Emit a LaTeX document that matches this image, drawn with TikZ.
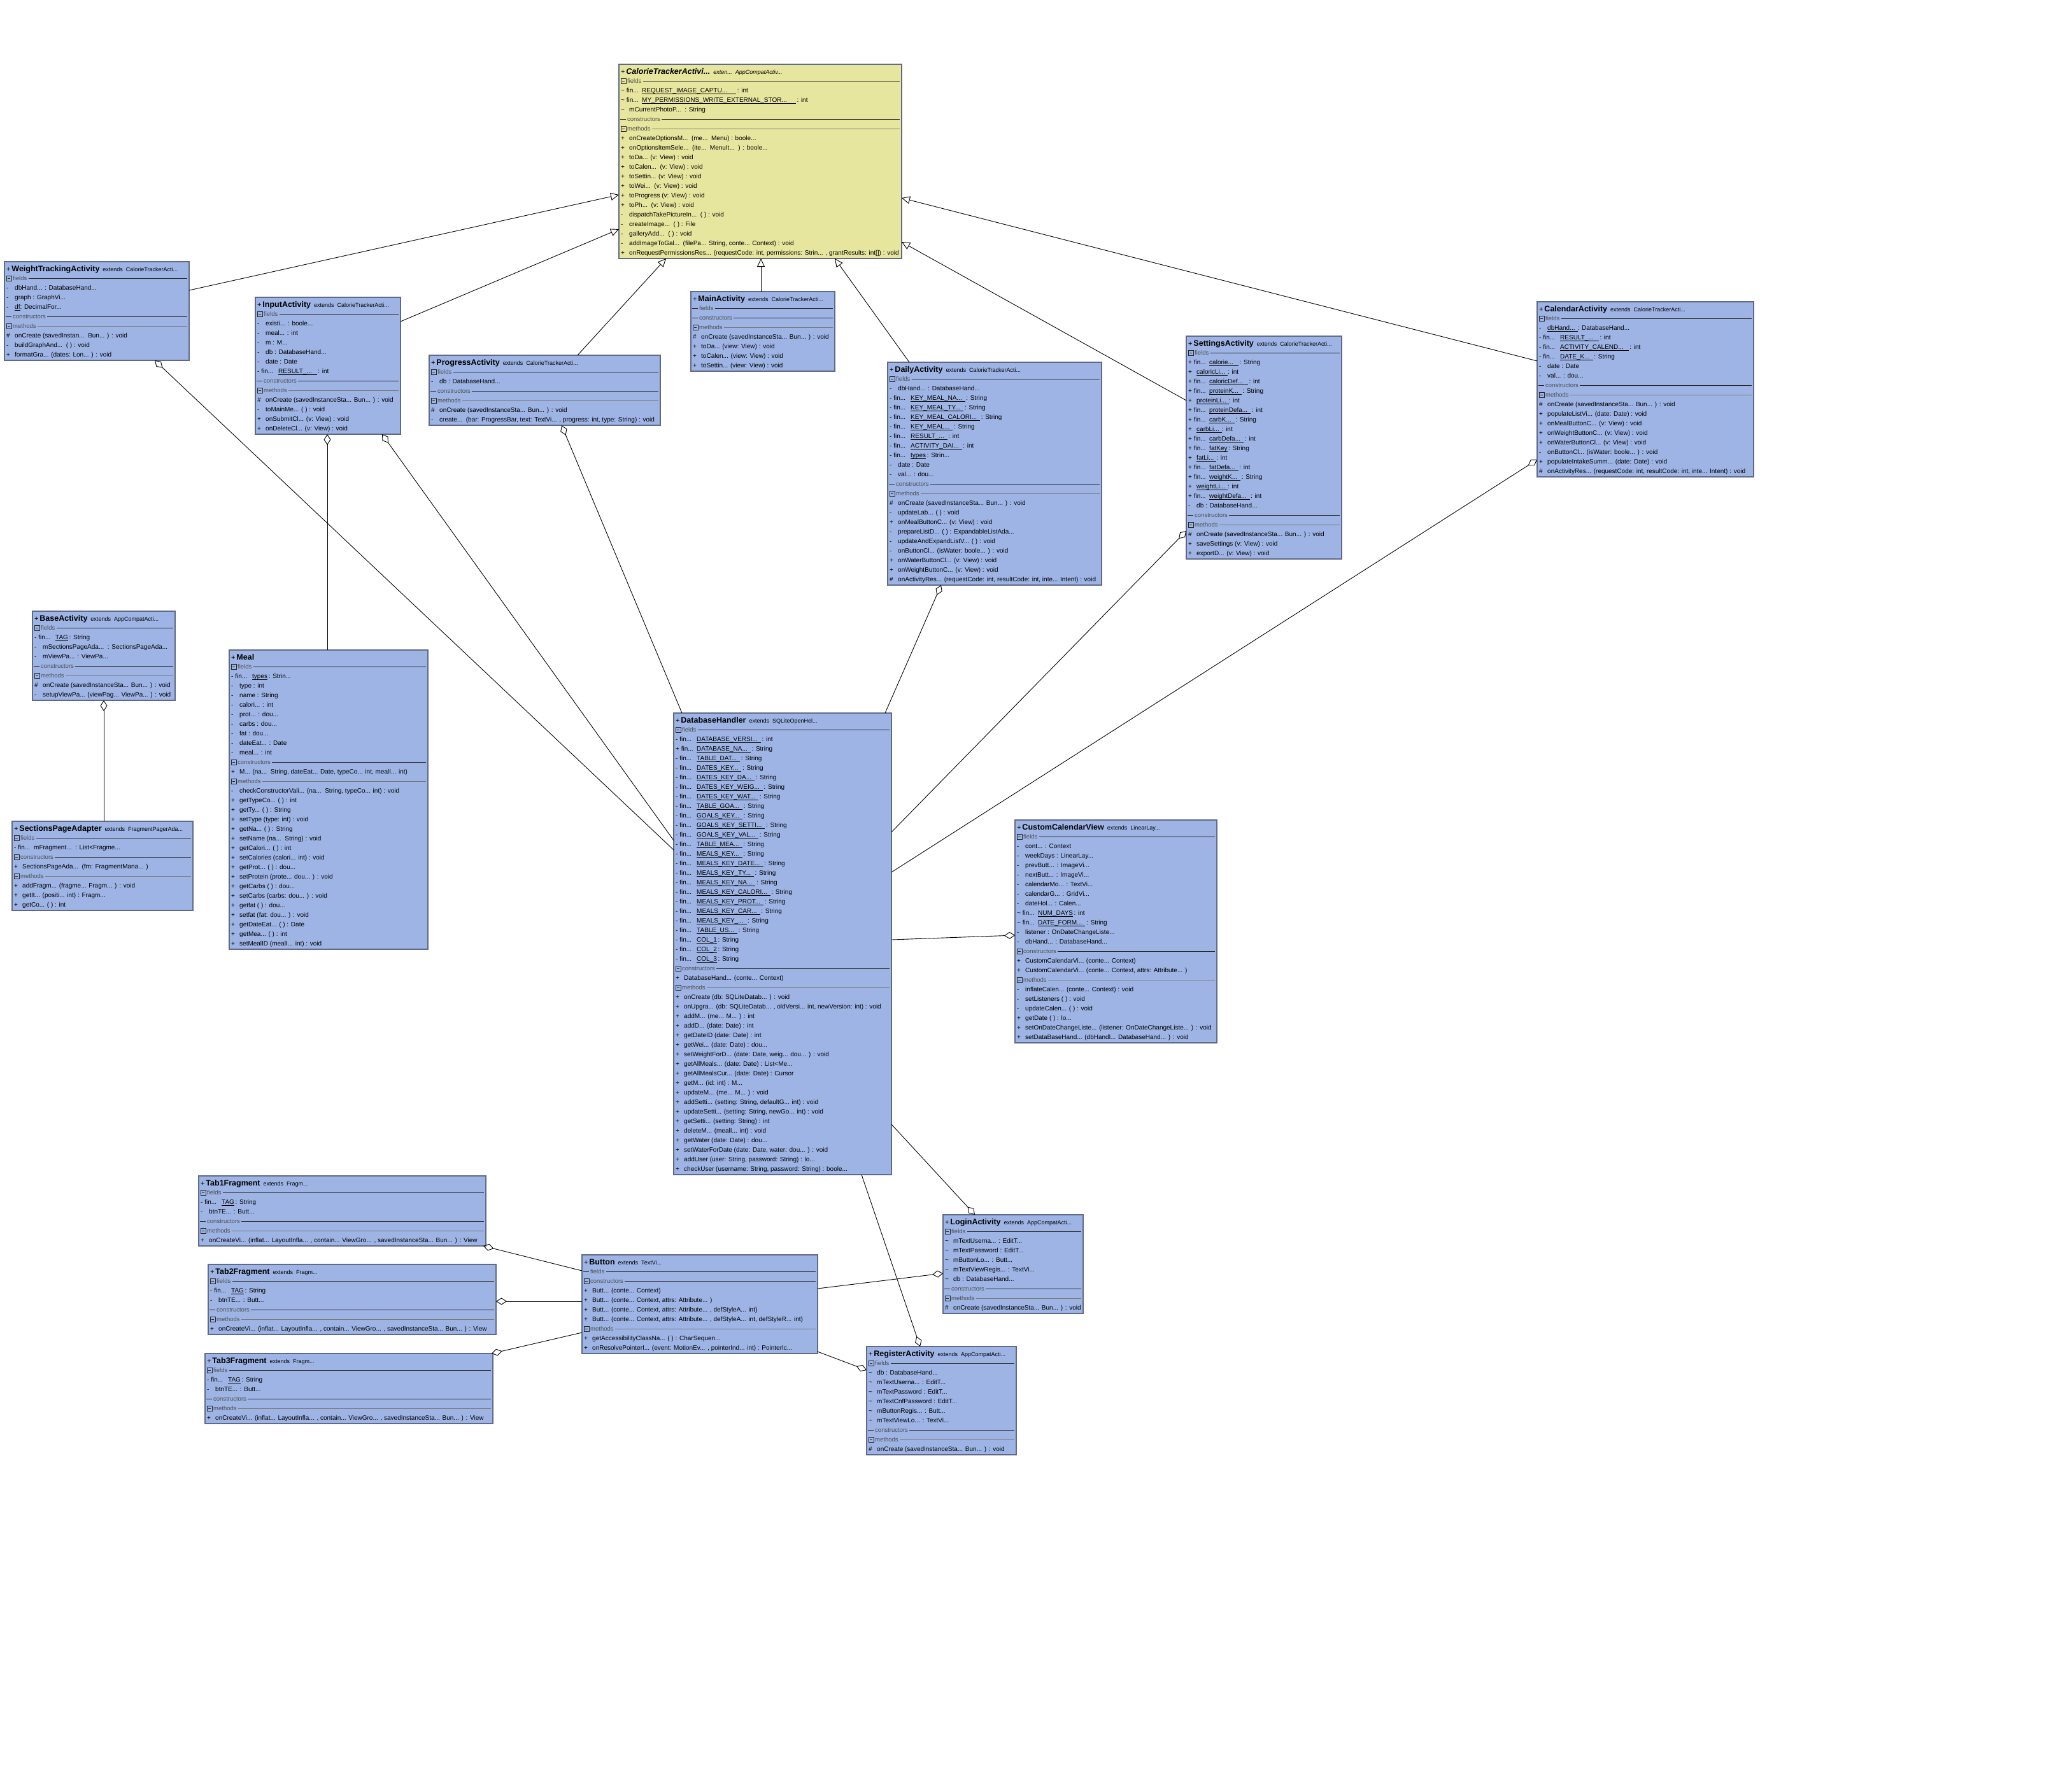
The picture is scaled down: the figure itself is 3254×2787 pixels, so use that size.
\documentclass[tikz,border=0pt]{standalone}
\usepackage{fontspec}
\setmainfont{Liberation Sans}
\usetikzlibrary{calc,arrows.meta}

\definecolor{boxblue}{RGB}{157,180,229}
\definecolor{boxyellow}{RGB}{231,230,158}
\definecolor{boxedge}{RGB}{96,106,136}
\definecolor{sepdark}{RGB}{40,40,40}
\definecolor{seplight}{RGB}{120,120,120}
\definecolor{labelgray}{RGB}{80,80,80}

\newcounter{rowno}

% underline with a 1px rule
\newcommand\ULine[1]{\setbox0\hbox{#1}\rlap{\rule[-2bp]{\wd0}{0.8bp}}\box0}
\newcommand\Ul[1]{\ULine{#1\hspace{4bp}}}

% class header: visibility, bold name, small "extends" part
\newcommand\Ttl[2]{{\fontsize{11bp}{12bp}\selectfont +\,}{\bfseries\fontsize{12.5bp}{13bp}\selectfont #1}\hspace{5bp}{\fontsize{9bp}{10bp}\selectfont #2}}

% class box: id, left, top, width, number of rows below the header, fill, header
\newcommand\Cls[7]{%
  \def\cid{#1}\def\cx{#2}\def\cy{#3}\def\cw{#4}%
  \setcounter{rowno}{0}%
  \pgfmathsetmacro\ch{20+15*#5}%
  \node[classbox, fill=#6, minimum width=#4bp, minimum height=\ch bp] (#1) at (#2,#3) {};
  \node[titletext] (#1-title) at (#2+3,#3+15) {#7};
}

% compartment separator: b = collapse box, d = dash; label; line style
\newcommand\Sec[3]{%
  \stepcounter{rowno}%
  \pgfmathsetmacro\ry{\cy+11+15*\therowno}%
  \pgfmathsetmacro\rx{\cx+\cw-3}%
  \if#1b%
    \draw[sepdark, line width=0.9bp] (\cx+3,\ry-4) rectangle (\cx+11,\ry+4);
    \draw[sepdark, line width=0.9bp] (\cx+5,\ry) -- (\cx+9,\ry);
  \else
    \draw[#3] (\cx+2,\ry) -- (\cx+11,\ry);
  \fi
  \node[seclabel] (\cid-\therowno) at (\cx+11,\ry) {#2};
  \draw[#3] (\cid-\therowno.east) -- (\rx,\ry);
}

% member row: visibility marker, member text
\newcommand\Row[2]{%
  \stepcounter{rowno}%
  \pgfmathsetmacro\ry{\cy+14.5+15*\therowno}%
  \node[rowtext] (\cid-\therowno-m) at (\cx+3,\ry) {#1};
  \node[rowtext] (\cid-\therowno) at (\cx+16,\ry) {#2};
}

% static final row: [underline padding] marker, name, type
\newcommand\Fin[4][5]{%
  \stepcounter{rowno}%
  \pgfmathsetmacro\ry{\cy+14.5+15*\therowno}%
  \node[rowtext] (\cid-\therowno-m) at (\cx+3,\ry) {#2 fin...};
  \node[rowtext] (\cid-\therowno) at (\cx+36,\ry) {\ULine{#3\hspace{#1bp}}\,#4};
}

% final row without static underline
\newcommand\FinN[2]{%
  \stepcounter{rowno}%
  \pgfmathsetmacro\ry{\cy+14.5+15*\therowno}%
  \node[rowtext] (\cid-\therowno-m) at (\cx+3,\ry) {#1 fin...};
  \node[rowtext] (\cid-\therowno) at (\cx+34,\ry) {#2};
}

% connector end point, offset from a box's top left corner (y downwards)
\newcommand\At[4]{\coordinate (#1) at ($(#2.north west)+(#3,#4)$);}

\newcommand\tld{\textasciitilde}

\begin{document}
\begin{tikzpicture}[x=1bp, y=-1bp,
  classbox/.style={anchor=north west, inner sep=0pt, outer sep=0pt, draw=boxedge, line width=1.2bp},
  titletext/.style={anchor=base west, inner sep=0pt},
  rowtext/.style={anchor=base west, inner sep=0pt, font=\fontsize{10bp}{12bp}\selectfont},
  seclabel/.style={anchor=west, inner sep=2bp, text=labelgray, font=\fontsize{9.5bp}{11bp}\selectfont},
  dk/.style={draw=sepdark, line width=0.9bp},
  lt/.style={draw=seplight, line width=0.8bp},
  gen/.style={draw=black, line width=0.9bp, -{Triangle[open, length=13bp, width=12bp]}},
  agg/.style={draw=black, line width=0.9bp, {Diamond[open, length=17bp, width=11bp]}-},
]
\fill[white] (0,0) rectangle (3254,2787);
\useasboundingbox (0,0) rectangle (3254,2787);

% ---------------- CalorieTrackerActivity
\Cls{cta}{972}{101}{444}{19}{boxyellow}{{\fontsize{11bp}{12bp}\selectfont +\,}{\bfseries\itshape\fontsize{12.5bp}{13bp}\selectfont CalorieTrackerActivi...}\hspace{5bp}{\itshape\fontsize{9bp}{10bp}\selectfont exten...\ \ AppCompatActiv...}}
\Sec{b}{fields}{dk}
\Fin[14]{\tld}{REQUEST\_IMAGE\_CAPTU...}{: int}
\Fin[14]{\tld}{MY\_PERMISSIONS\_WRITE\_EXTERNAL\_STOR...}{: int}
\Row{\tld}{mCurrentPhotoP...\ \ : String}
\Sec{d}{constructors}{dk}
\Sec{b}{methods}{lt}
\Row{+}{onCreateOptionsM...\ \ (me...\ \ Menu) : boole...}
\Row{+}{onOptionsItemSele...\ \ (ite...\ \ MenuIt...\ \ ) : boole...}
\Row{+}{toDa... (v: View) : void}
\Row{+}{toCalen...\ \ (v: View) : void}
\Row{+}{toSettin... (v: View) : void}
\Row{+}{toWei...\ \ (v: View) : void}
\Row{+}{toProgress (v: View) : void}
\Row{+}{toPh...\ \ (v: View) : void}
\Row{-}{dispatchTakePictureIn...\ \ ( ) : void}
\Row{-}{createImage...\ \ ( ) : File}
\Row{-}{galleryAdd...\ \ ( ) : void}
\Row{-}{addImageToGal...\ \ (filePa... String, conte... Context) : void}
\Row{+}{onRequestPermissionsRes... (requestCode: int, permissions: Strin... , grantResults: int[]) : void}

% ---------------- WeightTrackingActivity
\Cls{wta}{7}{411}{290}{9}{boxblue}{\Ttl{WeightTrackingActivity}{extends\ \ CalorieTrackerActi...}}
\Sec{b}{fields}{dk}
\Row{-}{dbHand... : DatabaseHand...}
\Row{-}{graph : GraphVi...}
\Row{-}{\ULine{df} : DecimalFor...}
\Sec{d}{constructors}{dk}
\Sec{b}{methods}{lt}
\Row{\#}{onCreate (savedInstan...\ \ Bun... ) : void}
\Row{-}{buildGraphAnd...\ \ ( ) : void}
\Row{+}{formatGra... (dates: Lon... ) : void}

% ---------------- InputActivity
\Cls{inp}{401}{467}{228}{13}{boxblue}{\Ttl{InputActivity}{extends\ \ CalorieTrackerActi...}}
\Sec{b}{fields}{dk}
\Row{-}{existi... : boole...}
\Row{-}{meal... : int}
\Row{-}{m : M...}
\Row{-}{db : DatabaseHand...}
\Row{-}{date : Date}
\Fin[8]{-}{RESULT\_...}{: int}
\Sec{d}{constructors}{dk}
\Sec{b}{methods}{lt}
\Row{\#}{onCreate (savedInstanceSta... Bun... ) : void}
\Row{-}{toMainMe... ( ) : void}
\Row{+}{onSubmitCl... (v: View) : void}
\Row{+}{onDeleteCl... (v: View) : void}

% ---------------- ProgressActivity
\Cls{prg}{674}{558}{363}{6}{boxblue}{\Ttl{ProgressActivity}{extends\ \ CalorieTrackerActi...}}
\Sec{b}{fields}{dk}
\Row{-}{db : DatabaseHand...}
\Sec{d}{constructors}{dk}
\Sec{b}{methods}{lt}
\Row{\#}{onCreate (savedInstanceSta... Bun... ) : void}
\Row{-}{create...\ \ (bar: ProgressBar, text: TextVi... , progress: int, type: String) : void}

% ---------------- MainActivity
\Cls{man}{1085}{458}{226}{7}{boxblue}{\Ttl{MainActivity}{extends\ \ CalorieTrackerActi...}}
\Sec{d}{fields}{dk}
\Sec{d}{constructors}{dk}
\Sec{b}{methods}{lt}
\Row{\#}{onCreate (savedInstanceSta... Bun... ) : void}
\Row{+}{toDa... (view: View) : void}
\Row{+}{toCalen... (view: View) : void}
\Row{+}{toSettin... (view: View) : void}

% ---------------- DailyActivity
\Cls{dly}{1394}{569}{336}{22}{boxblue}{\Ttl{DailyActivity}{extends\ \ CalorieTrackerActi...}}
\Sec{b}{fields}{dk}
\Row{-}{dbHand... : DatabaseHand...}
\Fin{-}{KEY\_MEAL\_NA...}{: String}
\Fin{-}{KEY\_MEAL\_TY...}{: String}
\Fin{-}{KEY\_MEAL\_CALORI...}{: String}
\Fin{-}{KEY\_MEAL...}{: String}
\Fin{-}{RESULT\_...}{: int}
\Fin{-}{ACTIVITY\_DAI...}{: int}
\Fin[0]{-}{types}{: Strin...}
\Row{-}{date : Date}
\Row{-}{val... : dou...}
\Sec{d}{constructors}{dk}
\Sec{b}{methods}{lt}
\Row{\#}{onCreate (savedInstanceSta... Bun... ) : void}
\Row{-}{updateLab... ( ) : void}
\Row{+}{onMealButtonC... (v: View) : void}
\Row{-}{prepareListD... ( ) : ExpandableListAda...}
\Row{-}{updateAndExpandListV... ( ) : void}
\Row{-}{onButtonCl... (isWater: boole... ) : void}
\Row{+}{onWaterButtonCl... (v: View) : void}
\Row{+}{onWeightButtonC... (v: View) : void}
\Row{\#}{onActivityRes... (requestCode: int, resultCode: int, inte... Intent) : void}

% ---------------- SettingsActivity
\Cls{set}{1863}{528}{244}{22}{boxblue}{\Ttl{SettingsActivity}{extends\ \ CalorieTrackerActi...}}
\Sec{b}{fields}{dk}
\Fin[8]{+}{calorie...}{: String}
\Row{+}{\Ul{caloricLi...} : int}
\Fin[8]{+}{caloricDef...}{: int}
\Fin{+}{proteinK...}{: String}
\Row{+}{\Ul{proteinLi...} : int}
\Fin{+}{proteinDefa...}{: int}
\Fin{+}{carbK...}{: String}
\Row{+}{\Ul{carbLi...} : int}
\Fin{+}{carbDefa...}{: int}
\Fin[0]{+}{fatKey}{: String}
\Row{+}{\Ul{fatLi...} : int}
\Fin{+}{fatDefa...}{: int}
\Fin{+}{weightK...}{: String}
\Row{+}{\Ul{weightLi...} : int}
\Fin{+}{weightDefa...}{: int}
\Row{-}{db : DatabaseHand...}
\Sec{d}{constructors}{dk}
\Sec{b}{methods}{lt}
\Row{\#}{onCreate (savedInstanceSta... Bun... ) : void}
\Row{+}{saveSettings (v: View) : void}
\Row{+}{exportD... (v: View) : void}

% ---------------- CalendarActivity
\Cls{cal}{2414}{474}{340}{17}{boxblue}{\Ttl{CalendarActivity}{extends\ \ CalorieTrackerActi...}}
\Sec{b}{fields}{dk}
\Row{-}{\Ul{dbHand...} : DatabaseHand...}
\Fin[8]{-}{RESULT\_...}{: int}
\Fin[8]{-}{ACTIVITY\_CALEND...}{: int}
\Fin{-}{DATE\_K...}{: String}
\Row{-}{date : Date}
\Row{-}{val... : dou...}
\Sec{d}{constructors}{dk}
\Sec{b}{methods}{lt}
\Row{\#}{onCreate (savedInstanceSta... Bun... ) : void}
\Row{+}{populateListVi... (date: Date) : void}
\Row{+}{onMealButtonC... (v: View) : void}
\Row{+}{onWeightButtonC... (v: View) : void}
\Row{+}{onWaterButtonCl... (v: View) : void}
\Row{-}{onButtonCl... (isWater: boole... ) : void}
\Row{+}{populateIntakeSumm... (date: Date) : void}
\Row{\#}{onActivityRes... (requestCode: int, resultCode: int, inte... Intent) : void}

% ---------------- BaseActivity
\Cls{bas}{51}{960}{224}{8}{boxblue}{\Ttl{BaseActivity}{extends\ \ AppCompatActi...}}
\Sec{b}{fields}{dk}
\Fin[0]{-}{TAG}{: String}
\Row{-}{mSectionsPageAda...\ \ : SectionsPageAda...}
\Row{-}{mViewPa... : ViewPa...}
\Sec{d}{constructors}{dk}
\Sec{b}{methods}{lt}
\Row{\#}{onCreate (savedInstanceSta... Bun... ) : void}
\Row{-}{setupViewPa... (viewPag... ViewPa... ) : void}

% ---------------- SectionsPageAdapter
\Cls{spa}{19}{1290}{284}{8}{boxblue}{\Ttl{SectionsPageAdapter}{extends\ \ FragmentPagerAda...}}
\Sec{b}{fields}{dk}
\FinN{-}{mFragment...\ \ : List<Fragme...}
\Sec{b}{constructors}{dk}
\Row{+}{SectionsPageAda...\ \ (fm: FragmentMana... )}
\Sec{b}{methods}{lt}
\Row{+}{addFragm... (fragme... Fragm... ) : void}
\Row{+}{getIt... (positi... int) : Fragm...}
\Row{+}{getCo... ( ) : int}

% ---------------- Meal
\Cls{meal}{360}{1021}{312}{30}{boxblue}{\Ttl{Meal}{}}
\Sec{b}{fields}{dk}
\Fin[0]{-}{types}{: Strin...}
\Row{-}{type : int}
\Row{-}{name : String}
\Row{-}{calori... : int}
\Row{-}{prot... : dou...}
\Row{-}{carbs : dou...}
\Row{-}{fat : dou...}
\Row{-}{dateEat... : Date}
\Row{-}{meal... : int}
\Sec{b}{constructors}{dk}
\Row{+}{M... (na...\ \ String, dateEat... Date, typeCo... int, mealI... int)}
\Sec{b}{methods}{lt}
\Row{-}{checkConstructorVali... (na...\ \ String, typeCo... int) : void}
\Row{+}{getTypeCo... ( ) : int}
\Row{+}{getTy... ( ) : String}
\Row{+}{setType (type: int) : void}
\Row{+}{getNa... ( ) : String}
\Row{+}{setName (na...\ \ String) : void}
\Row{+}{getCalori... ( ) : int}
\Row{+}{setCalories (calori... int) : void}
\Row{+}{getProt... ( ) : dou...}
\Row{+}{setProtein (prote... dou... ) : void}
\Row{+}{getCarbs ( ) : dou...}
\Row{+}{setCarbs (carbs: dou... ) : void}
\Row{+}{getfat ( ) : dou...}
\Row{+}{setfat (fat: dou... ) : void}
\Row{+}{getDateEat... ( ) : Date}
\Row{+}{getMea... ( ) : int}
\Row{+}{setMealID (mealI... int) : void}

% ---------------- DatabaseHandler
\Cls{db}{1058}{1120}{342}{47}{boxblue}{\Ttl{DatabaseHandler}{extends\ \ SQLiteOpenHel...}}
\Sec{b}{fields}{dk}
\Fin{-}{DATABASE\_VERSI...}{: int}
\Fin{+}{DATABASE\_NA...}{: String}
\Fin{-}{TABLE\_DAT...}{: String}
\Fin{-}{DATES\_KEY...}{: String}
\Fin{-}{DATES\_KEY\_DA...}{: String}
\Fin{-}{DATES\_KEY\_WEIG...}{: String}
\Fin{-}{DATES\_KEY\_WAT...}{: String}
\Fin{-}{TABLE\_GOA...}{: String}
\Fin{-}{GOALS\_KEY...}{: String}
\Fin{-}{GOALS\_KEY\_SETTI...}{: String}
\Fin{-}{GOALS\_KEY\_VAL...}{: String}
\Fin{-}{TABLE\_MEA...}{: String}
\Fin{-}{MEALS\_KEY...}{: String}
\Fin{-}{MEALS\_KEY\_DATE...}{: String}
\Fin{-}{MEALS\_KEY\_TY...}{: String}
\Fin{-}{MEALS\_KEY\_NA...}{: String}
\Fin{-}{MEALS\_KEY\_CALORI...}{: String}
\Fin{-}{MEALS\_KEY\_PROT...}{: String}
\Fin{-}{MEALS\_KEY\_CAR...}{: String}
\Fin{-}{MEALS\_KEY\_...}{: String}
\Fin{-}{TABLE\_US...}{: String}
\Fin[0]{-}{COL\_1}{: String}
\Fin[0]{-}{COL\_2}{: String}
\Fin[0]{-}{COL\_3}{: String}
\Sec{b}{constructors}{dk}
\Row{+}{DatabaseHand... (conte... Context)}
\Sec{b}{methods}{lt}
\Row{+}{onCreate (db: SQLiteDatab... ) : void}
\Row{+}{onUpgra... (db: SQLiteDatab... , oldVersi... int, newVersion: int) : void}
\Row{+}{addM... (me... M... ) : int}
\Row{+}{addD... (date: Date) : int}
\Row{+}{getDateID (date: Date) : int}
\Row{+}{getWei... (date: Date) : dou...}
\Row{+}{setWeightForD... (date: Date, weig... dou... ) : void}
\Row{+}{getAllMeals... (date: Date) : List<Me...}
\Row{+}{getAllMealsCur... (date: Date) : Cursor}
\Row{+}{getM... (id: int) : M...}
\Row{+}{updateM... (me... M... ) : void}
\Row{+}{addSetti... (setting: String, defaultG... int) : void}
\Row{+}{updateSetti... (setting: String, newGo... int) : void}
\Row{+}{getSetti... (setting: String) : int}
\Row{+}{deleteM... (mealI... int) : void}
\Row{+}{getWater (date: Date) : dou...}
\Row{+}{setWaterForDate (date: Date, water: dou... ) : void}
\Row{+}{addUser (user: String, password: String) : lo...}
\Row{+}{checkUser (username: String, password: String) : boole...}

% ---------------- CustomCalendarView
\Cls{ccv}{1594}{1288}{317}{22}{boxblue}{\Ttl{CustomCalendarView}{extends\ \ LinearLay...}}
\Sec{b}{fields}{dk}
\Row{-}{cont... : Context}
\Row{-}{weekDays : LinearLay...}
\Row{-}{prevButt... : ImageVi...}
\Row{-}{nextButt... : ImageVi...}
\Row{-}{calendarMo... : TextVi...}
\Row{-}{calendarG... : GridVi...}
\Row{-}{dateHol... : Calen...}
\Fin[0]{\tld}{NUM\_DAYS}{: int}
\Fin{\tld}{DATE\_FORM...}{: String}
\Row{-}{listener : OnDateChangeListe...}
\Row{-}{dbHand... : DatabaseHand...}
\Sec{b}{constructors}{dk}
\Row{+}{CustomCalendarVi... (conte... Context)}
\Row{+}{CustomCalendarVi... (conte... Context, attrs: Attribute... )}
\Sec{b}{methods}{lt}
\Row{-}{inflateCalen... (conte... Context) : void}
\Row{-}{setListeners ( ) : void}
\Row{-}{updateCalen... ( ) : void}
\Row{+}{getDate ( ) : lo...}
\Row{+}{setOnDateChangeListe... (listener: OnDateChangeListe... ) : void}
\Row{+}{setDataBaseHand... (dbHandl... DatabaseHand... ) : void}

% ---------------- Tab fragments
\Cls{tb1}{312}{1847}{451}{6}{boxblue}{\Ttl{Tab1Fragment}{extends\ \ Fragm...}}
\Sec{b}{fields}{dk}
\Fin[0]{-}{TAG}{: String}
\Row{-}{btnTE... : Butt...}
\Sec{d}{constructors}{dk}
\Sec{b}{methods}{lt}
\Row{+}{onCreateVi... (inflat... LayoutInfla... , contain... ViewGro... , savedInstanceSta... Bun... ) : View}

\Cls{tb2}{327}{1986}{452}{6}{boxblue}{\Ttl{Tab2Fragment}{extends\ \ Fragm...}}
\Sec{b}{fields}{dk}
\Fin[0]{-}{TAG}{: String}
\Row{-}{btnTE... : Butt...}
\Sec{d}{constructors}{dk}
\Sec{b}{methods}{lt}
\Row{+}{onCreateVi... (inflat... LayoutInfla... , contain... ViewGro... , savedInstanceSta... Bun... ) : View}

\Cls{tb3}{322}{2126}{452}{6}{boxblue}{\Ttl{Tab3Fragment}{extends\ \ Fragm...}}
\Sec{b}{fields}{dk}
\Fin[0]{-}{TAG}{: String}
\Row{-}{btnTE... : Butt...}
\Sec{d}{constructors}{dk}
\Sec{b}{methods}{lt}
\Row{+}{onCreateVi... (inflat... LayoutInfla... , contain... ViewGro... , savedInstanceSta... Bun... ) : View}

% ---------------- Button
\Cls{btn}{914}{1971}{370}{9}{boxblue}{\Ttl{Button}{extends\ \ TextVi...}}
\Sec{d}{fields}{dk}
\Sec{b}{constructors}{dk}
\Row{+}{Butt... (conte... Context)}
\Row{+}{Butt... (conte... Context, attrs: Attribute... )}
\Row{+}{Butt... (conte... Context, attrs: Attribute... , defStyleA... int)}
\Row{+}{Butt... (conte... Context, attrs: Attribute... , defStyleA... int, defStyleR... int)}
\Sec{b}{methods}{lt}
\Row{+}{getAccessibilityClassNa... ( ) : CharSequen...}
\Row{+}{onResolvePointerI... (event: MotionEv... , pointerInd... int) : PointerIc...}

% ---------------- LoginActivity
\Cls{log}{1481}{1908}{220}{9}{boxblue}{\Ttl{LoginActivity}{extends\ \ AppCompatActi...}}
\Sec{b}{fields}{dk}
\Row{\tld}{mTextUserna... : EditT...}
\Row{\tld}{mTextPassword : EditT...}
\Row{\tld}{mButtonLo... : Butt...}
\Row{\tld}{mTextViewRegis... : TextVi...}
\Row{\tld}{db : DatabaseHand...}
\Sec{d}{constructors}{dk}
\Sec{b}{methods}{lt}
\Row{\#}{onCreate (savedInstanceSta... Bun... ) : void}

% ---------------- RegisterActivity
\Cls{reg}{1361}{2115}{235}{10}{boxblue}{\Ttl{RegisterActivity}{extends\ \ AppCompatActi...}}
\Sec{b}{fields}{dk}
\Row{\tld}{db : DatabaseHand...}
\Row{\tld}{mTextUserna... : EditT...}
\Row{\tld}{mTextPassword : EditT...}
\Row{\tld}{mTextCnfPassword : EditT...}
\Row{\tld}{mButtonRegis... : Butt...}
\Row{\tld}{mTextViewLo... : TextVi...}
\Sec{d}{constructors}{dk}
\Sec{b}{methods}{lt}
\Row{\#}{onCreate (savedInstanceSta... Bun... ) : void}

% ---------------- connector end points
\At{wta-g}{wta}{290}{45}   \At{cta-g1}{cta}{0}{205}
\At{inp-g}{inp}{228}{38}   \At{cta-g2}{cta}{0}{259}
\At{prg-g}{prg}{233}{0}    \At{cta-g3}{cta}{74}{305}
\At{man-g}{man}{110}{0}    \At{cta-g4}{cta}{223}{305}
\At{dly-g}{dly}{34}{0}     \At{cta-g5}{cta}{339}{305}
\At{set-g}{set}{0}{101}    \At{cta-g6}{cta}{444}{279}
\At{cal-g}{cal}{0}{93}     \At{cta-g7}{cta}{444}{210}

\At{wta-a}{wta}{236}{155}  \At{db-a1}{db}{0}{215}
\At{inp-a1}{inp}{113}{215} \At{meal-a}{meal}{154}{0}
\At{inp-a2}{inp}{199}{215} \At{db-a2}{db}{0}{200}
\At{prg-a}{prg}{208}{110}  \At{db-a3}{db}{13}{0}
\At{dly-a}{dly}{84}{350}   \At{db-a4}{db}{332}{0}
\At{set-a}{set}{0}{306}    \At{db-a5}{db}{342}{187}
\At{cal-a}{cal}{0}{248}    \At{db-a6}{db}{342}{250}
\At{ccv-a}{ccv}{0}{181}    \At{db-a7}{db}{342}{356}
\At{log-a}{log}{50}{0}     \At{db-a8}{db}{342}{646}
\At{reg-a}{reg}{84}{0}     \At{db-a9}{db}{295}{725}
\At{bas-a}{bas}{112}{140}  \At{spa-a}{spa}{144}{0}
\At{tb1-a}{tb1}{447}{110}  \At{btn-a1}{btn}{0}{25}
\At{tb2-a}{tb2}{452}{58}   \At{btn-a2}{btn}{0}{73}
\At{tb3-a}{tb3}{450}{0}    \At{btn-a3}{btn}{0}{122}
\At{log-b}{log}{0}{92}     \At{btn-a4}{btn}{370}{53}
\At{reg-b}{reg}{0}{37}     \At{btn-a5}{btn}{370}{152}

% ---------------- inheritance
\draw[gen] (wta-g) -- (cta-g1);
\draw[gen] (inp-g) -- (cta-g2);
\draw[gen] (prg-g) -- (cta-g3);
\draw[gen] (man-g) -- (cta-g4);
\draw[gen] (dly-g) -- (cta-g5);
\draw[gen] (set-g) -- (cta-g6);
\draw[gen] (cal-g) -- (cta-g7);

% ---------------- aggregation
\draw[agg] (wta-a) -- (db-a1);
\draw[agg] (inp-a1) -- (meal-a);
\draw[agg] (inp-a2) -- (db-a2);
\draw[agg] (prg-a) -- (db-a3);
\draw[agg] (dly-a) -- (db-a4);
\draw[agg] (set-a) -- (db-a5);
\draw[agg] (cal-a) -- (db-a6);
\draw[agg] (ccv-a) -- (db-a7);
\draw[agg] (log-a) -- (db-a8);
\draw[agg] (reg-a) -- (db-a9);
\draw[agg] (bas-a) -- (spa-a);
\draw[agg] (tb1-a) -- (btn-a1);
\draw[agg] (tb2-a) -- (btn-a2);
\draw[agg] (tb3-a) -- (btn-a3);
\draw[agg] (log-b) -- (btn-a4);
\draw[agg] (reg-b) -- (btn-a5);
\end{tikzpicture}
\end{document}
